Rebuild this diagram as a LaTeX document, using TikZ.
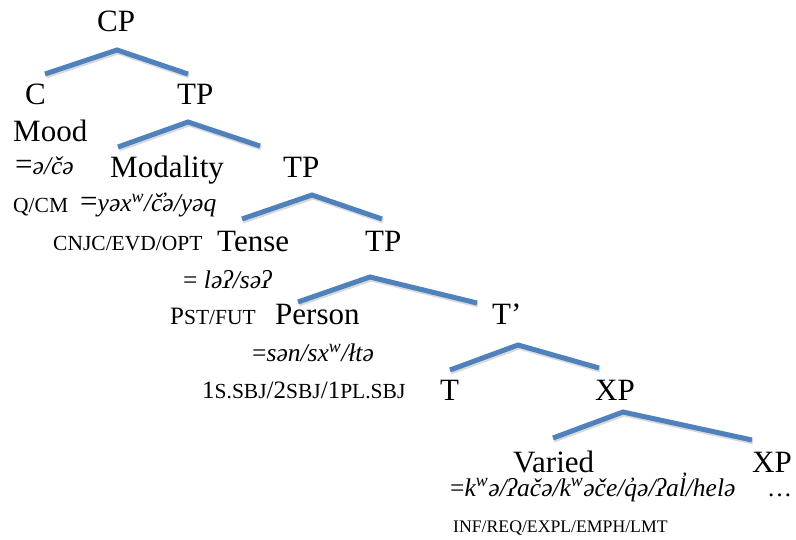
\documentclass[tikz,border=0pt]{standalone}
\usepackage{fontspec}
\setmainfont{Liberation Serif}
\definecolor{branchblue}{RGB}{79,129,189}
\newcommand{\smc}[1]{{\fontsize{21.5}{24}\selectfont #1}}
\newcommand{\sw}{\textsuperscript{w}}
\newcommand{\eq}{{\upshape\fontsize{31}{36}\selectfont=}}

\tikzset{
  cat/.style={font=\fontsize{31}{36}\selectfont, inner sep=0pt, anchor=base west},
  form/.style={font=\fontsize{25.5}{30}\selectfont\itshape, inner sep=0pt, anchor=base west},
  gloss/.style={font=\fontsize{25}{30}\selectfont, inner sep=0pt, anchor=base west},
  branch/.style={draw=branchblue, line width=5pt, preaction={draw=black, opacity=.15, line width=5pt, transform canvas={shift={(1pt,-2pt)}}}}
}

\begin{document}
\begin{tikzpicture}[x=1pt, y=-1pt]

\useasboundingbox (0,0) rectangle (796,540);

\coordinate (cp_t) at (117,50);   \coordinate (cp_l) at (45,74);    \coordinate (cp_r) at (188,74);
\coordinate (tpa_t) at (188,122); \coordinate (tpa_l) at (118,147); \coordinate (tpa_r) at (260,146);
\coordinate (tpb_t) at (312,195); \coordinate (tpb_l) at (242,219); \coordinate (tpb_r) at (382,219);
\coordinate (tpc_t) at (370,277); \coordinate (tpc_l) at (298,302); \coordinate (tpc_r) at (477,303);
\coordinate (tb_t) at (518,345);  \coordinate (tb_l) at (450,370);  \coordinate (tb_r) at (599,368);
\coordinate (xp_t) at (623,412);  \coordinate (xp_l) at (553,438);  \coordinate (xp_r) at (752,440);

\draw[branch] (cp_l) -- (cp_t) -- (cp_r);
\draw[branch] (tpa_l) -- (tpa_t) -- (tpa_r);
\draw[branch] (tpb_l) -- (tpb_t) -- (tpb_r);
\draw[branch] (tpc_l) -- (tpc_t) -- (tpc_r);
\draw[branch] (tb_l) -- (tb_t) -- (tb_r);
\draw[branch] (xp_l) -- (xp_t) -- (xp_r);

\node[cat] (cp) at (97,32)         {CP};
\node[cat] (c) at (25,105)         {C};
\node[cat] (tp_a) at (177,105)     {TP};
\node[cat] (mood) at (13,142)      {Mood};
\node[form] (form_mood) at (15,175) {\eq ə/čə};
\node[cat] (modality) at (110,178) {Modality};
\node[cat] (tp_b) at (283,178)     {TP};
\node[gloss] (gl_mood) at (13,213) {\smc{Q/CM}};
\node[form] (form_modality) at (80,212) {\eq yəx\sw/č̓ə/yəq};
\node[gloss] (gl_modality) at (53,251) {\smc{CNJC/EVD/OPT}};
\node[cat] (tense) at (217,252)    {Tense};
\node[cat] (tp_c) at (365,252)     {TP};
\node[form] (form_tense) at (183,289) {{\upshape=} ləʔ/səʔ};
\node[gloss] (gl_tense) at (170,325) {P\smc{ST/FUT}};
\node[cat] (person) at (275,325)   {Person};
\node[cat] (tbar) at (492,325)     {T’};
\node[form] (form_person) at (252,362) {{\upshape=}sən/sx\sw/łtə};
\node[gloss] (gl_person) at (202,399) {1\smc{S.SBJ}/2\smc{SBJ}/1\smc{PL.SBJ}};
\node[cat] (t) at (440,400)        {T};
\node[cat] (xp_a) at (595,400)     {XP};
\node[cat] (varied) at (513,472)   {Varied};
\node[cat] (xp_b) at (752,472)     {XP};
\node[form] (form_varied) at (450,496) {{\upshape=}k\sw ə/ʔačə/k\sw əče/q̓ə/ʔal̓/helə};
\node[gloss] (dots) at (767,496)   {…};
\node[gloss, font=\fontsize{17.7}{20}\selectfont] (gl_varied) at (453,532) {INF/REQ/EXPL/EMPH/LMT};

\end{tikzpicture}
\end{document}
